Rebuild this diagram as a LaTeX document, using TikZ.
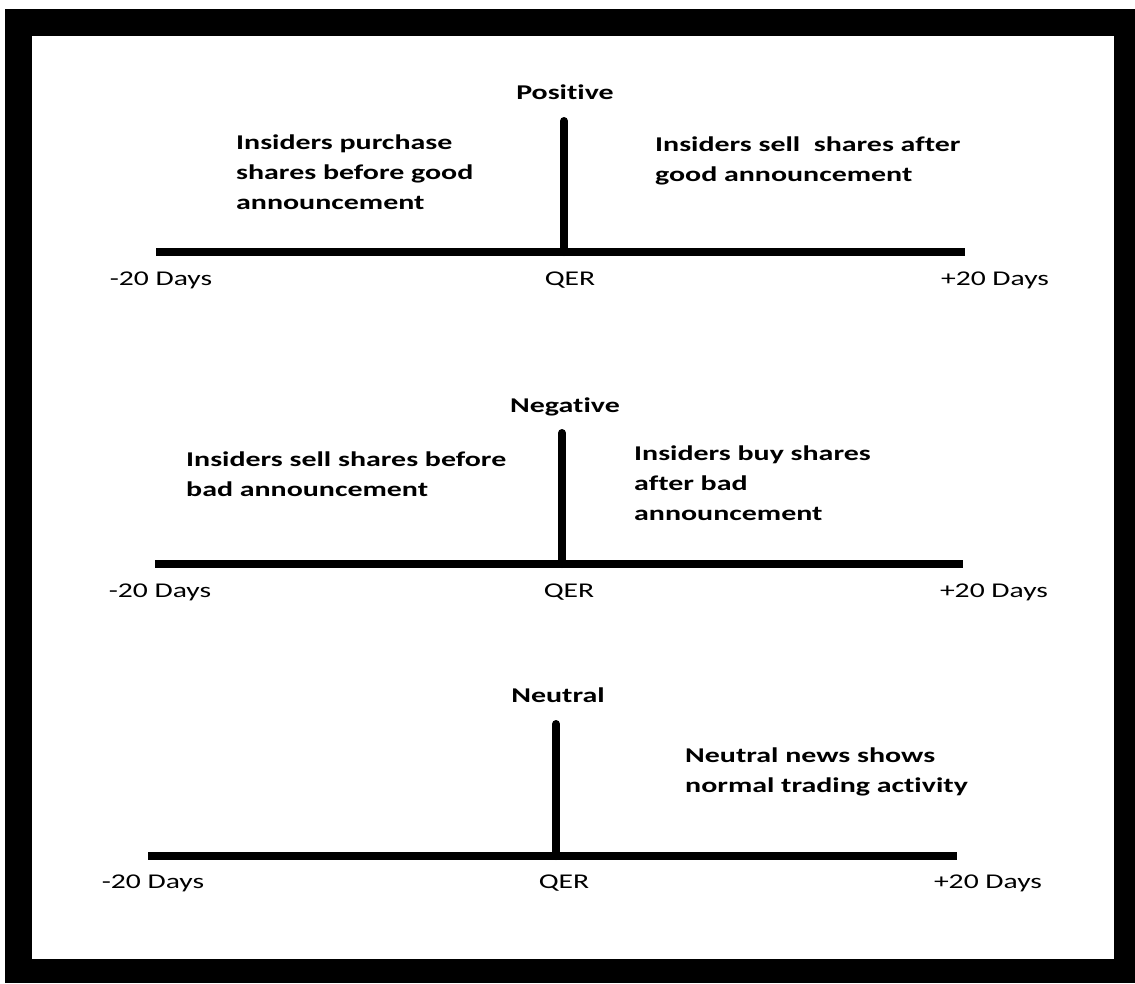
\documentclass[tikz,border=0pt]{standalone}
\usepackage{fontspec}
\setmainfont{Carlito}[FakeStretch=1.41,Ligatures=NoCommon,BoldFeatures={FakeStretch=1.425}]
\usepackage{tikz}

\begin{document}
\begin{tikzpicture}[x=1pt,y=1pt,yscale=-1,xscale=1,
  timeline/.style={line width=8},
  qerline/.style={line width=8,line cap=round},
  daylbl/.style={anchor=base,inner sep=0.75pt,font=\fontsize{21}{25}\selectfont},
  heading/.style={inner sep=0.75pt,font=\fontsize{21}{25}\selectfont\bfseries},
  note/.style={anchor=north west,inner sep=0pt,align=left,font=\fontsize{21}{30}\selectfont\bfseries}]
\useasboundingbox (0,0) rectangle (1135,983);

%Shape: Frame
\fill [black] (5,9) rectangle (1135,983);
\fill [white] (32,36) rectangle (1114,959);

%Straight Lines: Positive
\coordinate (posA) at (156,252);
\coordinate (posB) at (965,252);
\coordinate (posQ) at (564,252);
\coordinate (posT) at (564,121);
\draw [timeline] (posA) -- (posB);
\draw [qerline] (posQ) -- (posT);

%Straight Lines: Negative
\coordinate (negA) at (155,564);
\coordinate (negB) at (963,564);
\coordinate (negQ) at (562,564);
\coordinate (negT) at (562,433);
\draw [timeline] (negA) -- (negB);
\draw [qerline] (negQ) -- (negT);

%Straight Lines: Neutral
\coordinate (neuA) at (148,856);
\coordinate (neuB) at (957,856);
\coordinate (neuQ) at (556,856);
\coordinate (neuT) at (556,724);
\draw [timeline] (neuA) -- (neuB);
\draw [qerline] (neuQ) -- (neuT);

% Text Node
\draw (565,92) node [heading] (posHead) {Positive};
% Text Node
\draw (236,135) node [note] (posBefore) {Insiders purchase\\shares before good\\announcement};
% Text Node
\draw (655,137) node [note] (posAfter) {Insiders sell\ \ shares after\\good announcement};
% Text Node
\draw (161,285) node [daylbl] (posStart) {-20 Days};
% Text Node
\draw (570,285) node [daylbl] (posQER) {QER};
% Text Node
\draw (995,285) node [daylbl] (posEnd) {+20 Days};

% Text Node
\draw (565,407) node [heading] (negHead) {Negative};
% Text Node
\draw (186,452) node [note] (negBefore) {Insiders sell shares before\\bad announcement};
% Text Node
\draw (634,446) node [note] (negAfter) {Insiders buy shares\\after bad\\announcement};
% Text Node
\draw (160,597) node [daylbl] (negStart) {-20 Days};
% Text Node
\draw (569,597) node [daylbl] (negQER) {QER};
% Text Node
\draw (994,597) node [daylbl] (negEnd) {+20 Days};

% Text Node
\draw (558,695) node [heading] (neuHead) {Neutral};
% Text Node
\draw (685,748) node [note] (neuAfter) {Neutral news shows\\normal trading activity};
% Text Node
\draw (153,888) node [daylbl] (neuStart) {-20 Days};
% Text Node
\draw (564,888) node [daylbl] (neuQER) {QER};
% Text Node
\draw (988,888) node [daylbl] (neuEnd) {+20 Days};

\end{tikzpicture}
\end{document}
